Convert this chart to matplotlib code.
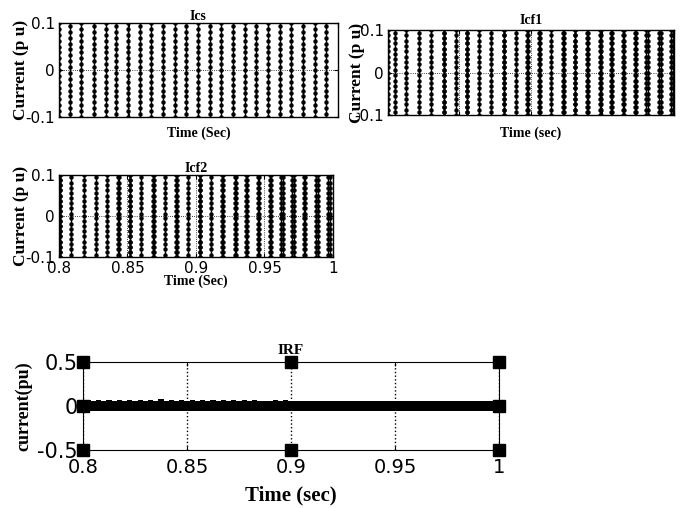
import numpy as np
import matplotlib
matplotlib.use('Agg')
import matplotlib.pyplot as plt

# ------------------------------------------------------------
# data
# ------------------------------------------------------------
# times (s) where the clipped current sweeps through the +/-0.1 window
ics_cross = [0.8000, 0.8081, 0.8160, 0.8249, 0.8335, 0.8411, 0.8495, 0.8578,
             0.8662, 0.8746, 0.8829, 0.8913, 0.8996, 0.9080, 0.9164, 0.9247,
             0.9331, 0.9415, 0.9498, 0.9582, 0.9665, 0.9749, 0.9833, 0.9916]
ics_spread = [0.0] * len(ics_cross)

icf1_cross = [0.8000, 0.8047, 0.8128, 0.8217, 0.8303, 0.8389, 0.8473, 0.8552,
              0.8636, 0.8723, 0.8809, 0.8893, 0.8974, 0.9056, 0.9142, 0.9224,
              0.9305, 0.9392, 0.9480, 0.9562, 0.9643, 0.9725, 0.9807, 0.9895,
              0.9981]
icf1_spread = [0.0, 0.0, 0.0, 0.0, 0.0, 0.0004, 0.0, 0.0004, 0.0, 0.0, 0.0004,
               0.0, 0.0005, 0.0005, 0.0, 0.0006, 0.0005, 0.0007, 0.0008, 0.0008,
               0.0010, 0.0010, 0.0011, 0.0012, 0.0012]

icf2_cross = [0.8005, 0.8090, 0.8180, 0.8268, 0.8350, 0.8431, 0.8516, 0.8601,
              0.8686, 0.8771, 0.8856, 0.8942, 0.9027, 0.9112, 0.9192, 0.9282,
              0.9367, 0.9453, 0.9538, 0.9623, 0.9703, 0.9786, 0.9878, 0.9964]
icf2_spread = [0.0003, 0.0, 0.0, 0.0, 0.0, 0.0006, 0.0004, 0.0, 0.0004, 0.0,
               0.0005, 0.0, 0.0005, 0.0, 0.0007, 0.0008, 0.0008, 0.0009, 0.0010,
               0.0010, 0.0011, 0.0012, 0.0012, 0.0013]

# sample levels seen along each sweep (alternate sweeps are offset)
levels_a = [-0.1, -0.0875, -0.075, -0.0625, -0.05, -0.0375, -0.025, -0.0125, 0.0,
            0.0125, 0.025, 0.0375, 0.05, 0.0625, 0.075, 0.0875, 0.1]
levels_b = [-0.094, -0.081, -0.069, -0.056, -0.044, -0.031, -0.019, -0.006,
            0.006, 0.019, 0.031, 0.044, 0.056, 0.069, 0.081, 0.094]

# IRF current (p.u.): ripple envelope, small spikes die out near 0.93 s
irf_band = 0.055
irf_t = [0.800, 0.8025, 0.805, 0.8075, 0.810, 0.8125, 0.815, 0.8175, 0.820,
         0.8225, 0.825, 0.8275, 0.830, 0.8325, 0.835, 0.8375, 0.840, 0.8425,
         0.845, 0.8475, 0.850, 0.8525, 0.855, 0.8575, 0.860, 0.8625, 0.865,
         0.8675, 0.870, 0.8725, 0.875, 0.8775, 0.880, 0.8825, 0.885, 0.8875,
         0.890, 0.8925, 0.895, 0.8975, 0.900, 0.9025, 0.905, 0.9075, 0.910,
         0.9125, 0.915, 0.9175, 0.920, 0.9225, 0.925, 0.930, 0.940, 1.000]
irf_i = [0.000, 0.012, 0.004, 0.014, 0.006, 0.015, 0.005, 0.016, 0.004, 0.014,
         0.006, 0.017, 0.005, 0.018, 0.004, 0.020, 0.006, 0.014, 0.004, 0.012,
         0.006, 0.018, 0.003, 0.012, 0.005, 0.015, 0.002, 0.010, 0.003, 0.012,
         0.002, 0.008, 0.003, 0.010, 0.002, 0.006, 0.001, 0.012, 0.002, 0.008,
         0.001, 0.006, 0.001, 0.007, 0.001, 0.005, 0.000, 0.004, 0.000, 0.003,
         0.000, 0.000, 0.000, 0.000]
# selection handles drawn on the IRF axes
handle_t = [0.8, 0.9, 1.0, 0.8, 0.9, 1.0, 0.8, 1.0]
handle_i = [0.5, 0.5, 0.5, -0.5, -0.5, -0.5, 0.0, 0.0]

TICK_FONT = 'DejaVu Sans'
LABEL_FONT = 'Liberation Serif'


def draw_sweeps(ax, crossings, spread):
    for k, (t, w) in enumerate(zip(crossings, spread)):
        lv = levels_a if k % 2 == 0 else levels_b
        for tt in ([t, t + w] if w > 0 else [t]):
            ax.plot([tt, tt], [-0.12, 0.12], color='black', lw=1.0)
            ax.plot([tt] * len(lv), lv, 'o', color='black', ms=2.8, mew=0.3)


def style_small(ax, title, xlabel, show_xticks, title_pad, xlab_pad):
    ax.set_xlim(0.8, 1.0)
    ax.set_ylim(-0.1, 0.1)
    ax.set_yticks([-0.1, 0, 0.1])
    ax.set_yticklabels(['-0.1', '0', '0.1'], family=TICK_FONT, fontsize=11)
    ax.set_xticks([0.8, 0.85, 0.9, 0.95, 1.0])
    if show_xticks:
        ax.set_xticklabels(['0.8', '0.85', '0.9', '0.95', '1'], family=TICK_FONT, fontsize=11)
    else:
        ax.set_xticklabels([])
    ax.tick_params(direction='in', length=3, pad=3, top=True, right=True)
    ax.grid(True, ls=':', color='black', lw=0.6)
    ax.set_title(title, family=LABEL_FONT, weight='bold', fontsize=10, pad=title_pad)
    ax.set_xlabel(xlabel, family=LABEL_FONT, weight='bold', fontsize=10, labelpad=xlab_pad)
    ax.set_ylabel('Current (p u)', family=LABEL_FONT, weight='bold', fontsize=12.5, labelpad=-3)
    for s in ax.spines.values():
        s.set_linewidth(1.0)


fig = plt.figure(figsize=(6.85, 5.08), dpi=100)

ax1 = fig.add_axes([0.0861, 0.7697, 0.4073, 0.185])
draw_sweeps(ax1, ics_cross, ics_spread)
style_small(ax1, 'Ics', 'Time (Sec)', False, 2, 4)

ax2 = fig.add_axes([0.5664, 0.7736, 0.4175, 0.1673])
draw_sweeps(ax2, icf1_cross, icf1_spread)
style_small(ax2, 'Icf1', 'Time (sec)', False, 4, 5)
ax2.yaxis.labelpad = -8

ax3 = fig.add_axes([0.0861, 0.4941, 0.40, 0.1614])
draw_sweeps(ax3, icf2_cross, icf2_spread)
style_small(ax3, 'Icf2', 'Time (Sec)', True, 2, -1)

ax4 = fig.add_axes([0.1212, 0.1142, 0.6073, 0.1732])
ax4.fill_between(irf_t, [-irf_band] * len(irf_t), [irf_band + v for v in irf_i],
                 step='mid', color='black', lw=0)
ax4.plot(handle_t, handle_i, 's', color='black', ms=8, clip_on=False, zorder=5)
ax4.set_xlim(0.8, 1.0)
ax4.set_ylim(-0.5, 0.5)
ax4.set_xticks([0.8, 0.85, 0.9, 0.95, 1.0])
ax4.set_xticklabels(['0.8', '0.85', '0.9', '0.95', '1'], family=TICK_FONT, fontsize=14)
ax4.set_yticks([-0.5, 0, 0.5])
ax4.set_yticklabels(['-0.5', '0', '0.5'], family=TICK_FONT, fontsize=15)
ax4.tick_params(axis='x', direction='in', length=3, pad=6, top=True)
ax4.tick_params(axis='y', direction='in', length=3, pad=4, right=True)
ax4.xaxis.grid(True, ls=':', color='black', lw=1.0)
ax4.set_title('IRF', family=LABEL_FONT, weight='bold', fontsize=11, pad=6)
ax4.set_xlabel('Time (sec)', family=LABEL_FONT, weight='bold', fontsize=15, labelpad=6)
ax4.set_ylabel('current(pu)', family=LABEL_FONT, weight='bold', fontsize=13, labelpad=3)

fig.savefig('out.png', dpi=100)
